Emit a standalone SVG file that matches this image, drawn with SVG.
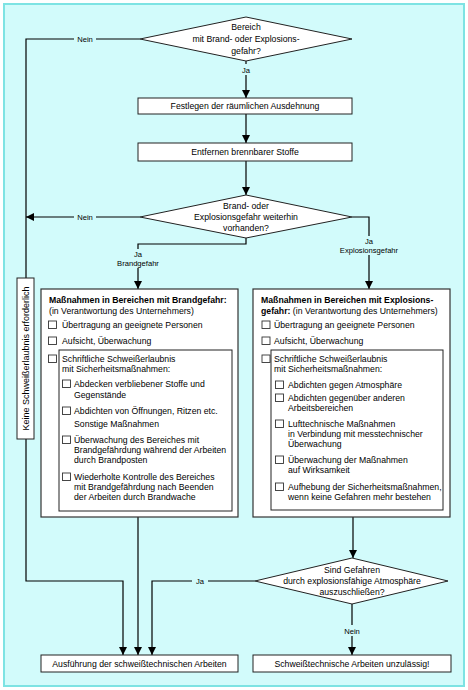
<svg xmlns="http://www.w3.org/2000/svg" width="468" height="690" viewBox="0 0 468 690">
<defs>
<marker id="ah" viewBox="0 0 10 10" refX="10" refY="5" markerWidth="8" markerHeight="8" markerUnits="userSpaceOnUse" orient="auto"><path d="M0,0 L10,5 L0,10 z" fill="#000"/></marker>
<style>
text{font-family:"Liberation Sans",Arial,sans-serif;font-size:8.7px;fill:#000}
.c{text-anchor:middle}
.b{font-weight:bold}
.lbl{font-size:7.6px;text-anchor:middle}
.node{fill:#fff;stroke:#222;stroke-width:1}
.outer{fill:#fff;stroke:#333;stroke-width:1.2}
.cb{fill:#fff;stroke:#333;stroke-width:0.9}
.ln{fill:none;stroke:#000;stroke-width:1.2}
.lb{fill:#d2fbfb}
</style>
</defs>
<rect x="0" y="0" width="468" height="690" fill="#fff"/>
<rect x="4" y="4" width="460" height="682" fill="#d2fbfb" stroke="#7de3e3" stroke-width="2"/>

<g id="connectors">
<path class="ln" d="M140,39 H26 V581 H123 V655" marker-end="url(#ah)"/>
<path class="ln" d="M246,61 V98" marker-end="url(#ah)"/>
<path class="ln" d="M246,114 V143" marker-end="url(#ah)"/>
<path class="ln" d="M246,161 V195" marker-end="url(#ah)"/>
<path class="ln" d="M140,217 H26" marker-end="url(#ah)"/>
<path class="ln" d="M246,238 V244 H138 V289" marker-end="url(#ah)"/>
<path class="ln" d="M352,217 H369 V289" marker-end="url(#ah)"/>
<path class="ln" d="M138,517 V655" marker-end="url(#ah)"/>
<path class="ln" d="M353,517 V558" marker-end="url(#ah)"/>
<path class="ln" d="M255,581 H152 V655" marker-end="url(#ah)"/>
<path class="ln" d="M352,604 V655" marker-end="url(#ah)"/>
<rect class="lb" x="74" y="33" width="22" height="11"/>
<text class="lbl" x="85" y="41.5">Nein</text>
<rect class="lb" x="238" y="64" width="16" height="11"/>
<text class="lbl" x="246" y="72.5">Ja</text>
<rect class="lb" x="74" y="211" width="22" height="11"/>
<text class="lbl" x="85" y="219.5">Nein</text>
<rect class="lb" x="114" y="249" width="48" height="19"/>
<text class="lbl" x="138" y="257">Ja</text>
<text class="lbl" x="138" y="266">Brandgefahr</text>
<rect class="lb" x="338" y="236" width="62" height="19"/>
<text class="lbl" x="369" y="244">Ja</text>
<text class="lbl" x="369" y="253">Explosionsgefahr</text>
<rect class="lb" x="192" y="575" width="16" height="11"/>
<text class="lbl" x="200" y="583.5">Ja</text>
<rect class="lb" x="341" y="625" width="22" height="11"/>
<text class="lbl" x="352" y="633.5">Nein</text>
</g>

<g id="d1">
<polygon class="node" points="246,17 352,39 246,61 140,39"/>
<text class="c" x="246" y="30">Bereich</text>
<text class="c" x="246" y="42">mit Brand- oder Explosions-</text>
<text class="c" x="246" y="54">gefahr?</text>
</g>

<g id="n1">
<rect class="node" x="138" y="98" width="214" height="16"/>
<text class="c" x="245" y="109">Festlegen der räumlichen Ausdehnung</text>
</g>

<g id="n2">
<rect class="node" x="138" y="143" width="214" height="18"/>
<text class="c" x="245" y="155">Entfernen brennbarer Stoffe</text>
</g>

<g id="d2">
<polygon class="node" points="246,195 352,217 246,238 140,217"/>
<text class="c" x="246" y="209">Brand- oder</text>
<text class="c" x="246" y="220">Explosionsgefahr weiterhin</text>
<text class="c" x="246" y="231">vorhanden?</text>
</g>

<g id="keine">
<rect class="node" x="17" y="278" width="17" height="161"/>
<text class="c" transform="translate(28.8,358.5) rotate(-90)" x="0" y="0" style="font-size:9px">Keine Schweißerlaubnis erforderlich</text>
</g>

<g id="brand">
<rect class="outer" x="41" y="289" width="197" height="228"/>
<text class="b" x="49" y="303">Maßnahmen in Bereichen mit Brandgefahr:</text>
<text x="49" y="314">(in Verantwortung des Unternehmers)</text>
<rect class="cb" x="48.5" y="321" width="8" height="7.5"/>
<text x="62" y="328">Übertragung an geeignete Personen</text>
<rect class="cb" x="48.5" y="337" width="8" height="7.5"/>
<text x="62" y="344">Aufsicht, Überwachung</text>
<rect class="cb" x="48.5" y="355" width="8" height="7.5"/>
<rect class="node" x="59" y="350" width="173" height="161"/>
<text x="62" y="362">Schriftliche Schweißerlaubnis</text>
<text x="62" y="372">mit Sicherheitsmaßnahmen:</text>
<rect class="cb" x="62.5" y="380" width="8" height="7.5"/>
<text x="74" y="387">Abdecken verbliebener Stoffe und</text>
<text x="74" y="398">Gegenstände</text>
<rect class="cb" x="62.5" y="407" width="8" height="7.5"/>
<text x="74" y="414">Abdichten von Öffnungen, Ritzen etc.</text>
<text x="74" y="427">Sonstige Maßnahmen</text>
<rect class="cb" x="62.5" y="436" width="8" height="7.5"/>
<text x="74" y="443">Überwachung des Bereiches mit</text>
<text x="74" y="453">Brandgefährdung während der Arbeiten</text>
<text x="74" y="463">durch Brandposten</text>
<rect class="cb" x="62.5" y="473" width="8" height="7.5"/>
<text x="74" y="480">Wiederholte Kontrolle des Bereiches</text>
<text x="74" y="490">mit Brandgefährdung nach Beenden</text>
<text x="74" y="500">der Arbeiten durch Brandwache</text>
</g>

<g id="explosion">
<rect class="outer" x="253" y="289" width="197" height="228"/>
<text class="b" x="261" y="303">Maßnahmen in Bereichen mit Explosions-</text>
<text x="261" y="314"><tspan class="b">gefahr:</tspan> (in Verantwortung des Unternehmers)</text>
<rect class="cb" x="262" y="321" width="8" height="7.5"/>
<text x="274" y="328">Übertragung an geeignete Personen</text>
<rect class="cb" x="262" y="337" width="8" height="7.5"/>
<text x="274" y="344">Aufsicht, Überwachung</text>
<rect class="cb" x="262" y="355" width="8" height="7.5"/>
<rect class="node" x="271" y="350" width="172" height="160"/>
<text x="274" y="362">Schriftliche Schweißerlaubnis</text>
<text x="274" y="372">mit Sicherheitsmaßnahmen:</text>
<rect class="cb" x="275.5" y="381" width="8" height="7.5"/>
<text x="288" y="388">Abdichten gegen Atmosphäre</text>
<rect class="cb" x="275.5" y="394" width="8" height="7.5"/>
<text x="288" y="401">Abdichten gegenüber anderen</text>
<text x="288" y="411">Arbeitsbereichen</text>
<rect class="cb" x="275.5" y="420" width="8" height="7.5"/>
<text x="288" y="427">Lufttechnische Maßnahmen</text>
<text x="288" y="437">in Verbindung mit messtechnischer</text>
<text x="288" y="447">Überwachung</text>
<rect class="cb" x="275.5" y="456" width="8" height="7.5"/>
<text x="288" y="463">Überwachung der Maßnahmen</text>
<text x="288" y="473">auf Wirksamkeit</text>
<rect class="cb" x="275.5" y="483" width="8" height="7.5"/>
<text x="288" y="490">Aufhebung der Sicherheitsmaßnahmen,</text>
<text x="288" y="500">wenn keine Gefahren mehr bestehen</text>
</g>

<g id="d3">
<polygon class="node" points="352,558 448,581 352,604 255,581"/>
<text class="c" x="352" y="573">Sind Gefahren</text>
<text class="c" x="352" y="584">durch explosionsfähige Atmosphäre</text>
<text class="c" x="352" y="595">auszuschließen?</text>
</g>

<g id="ausf">
<rect class="node" x="41" y="655" width="197" height="17"/>
<text class="c" x="139.5" y="666.5">Ausführung der schweißtechnischen Arbeiten</text>
</g>

<g id="unzul">
<rect class="node" x="253" y="655" width="198" height="17"/>
<text class="c" x="352" y="666.5">Schweißtechnische Arbeiten unzulässig!</text>
</g>
</svg>
